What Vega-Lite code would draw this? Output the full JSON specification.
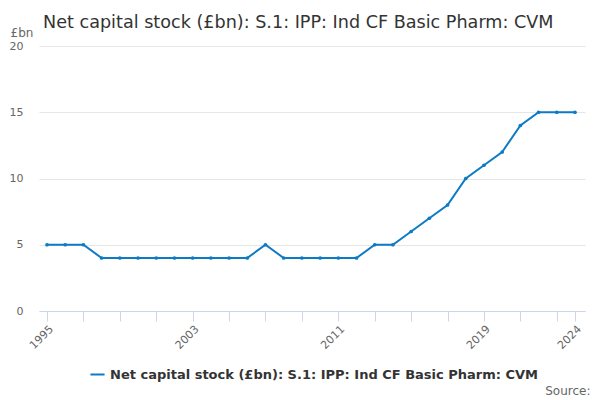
{
  "$schema": "https://vega.github.io/schema/vega-lite/v6.json",
  "width": 546,
  "height": 265,
  "autosize": "none",
  "padding": {"left": 39, "top": 46, "right": 15, "bottom": 89},
  "title": {
    "text": "Net capital stock (£bn): S.1: IPP: Ind CF Basic Pharm: CVM",
    "anchor": "start",
    "frame": "group",
    "fontSize": 17.6,
    "font": "DejaVu Sans",
    "fontWeight": "normal",
    "color": "#333333",
    "offset": -6,
    "dx": 4
  },
  "config": {"view": {"stroke": null}, "font": "DejaVu Sans"},
  "data": {
    "values": [
      {"year": 1995, "value": 5}, {"year": 1996, "value": 5}, {"year": 1997, "value": 5},
      {"year": 1998, "value": 4}, {"year": 1999, "value": 4}, {"year": 2000, "value": 4},
      {"year": 2001, "value": 4}, {"year": 2002, "value": 4}, {"year": 2003, "value": 4},
      {"year": 2004, "value": 4}, {"year": 2005, "value": 4}, {"year": 2006, "value": 4},
      {"year": 2007, "value": 5}, {"year": 2008, "value": 4}, {"year": 2009, "value": 4},
      {"year": 2010, "value": 4}, {"year": 2011, "value": 4}, {"year": 2012, "value": 4},
      {"year": 2013, "value": 5}, {"year": 2014, "value": 5}, {"year": 2015, "value": 6},
      {"year": 2016, "value": 7}, {"year": 2017, "value": 8}, {"year": 2018, "value": 10},
      {"year": 2019, "value": 11}, {"year": 2020, "value": 12}, {"year": 2021, "value": 14},
      {"year": 2022, "value": 15}, {"year": 2023, "value": 15}, {"year": 2024, "value": 15}
    ]
  },
  "mark": {
    "type": "line",
    "strokeWidth": 2,
    "point": {"filled": true, "size": 14}
  },
  "encoding": {
    "x": {
      "field": "year",
      "type": "quantitative",
      "scale": {"domain": [1994.56, 2024.55], "nice": false, "zero": false},
      "axis": {
        "values": [1995, 1997, 1999, 2001, 2003, 2005, 2007, 2009, 2011, 2013, 2015, 2017, 2019, 2021, 2023, 2024],
        "labelExpr": "(datum.value == 1995 || datum.value == 2003 || datum.value == 2011 || datum.value == 2019 || datum.value == 2024) ? datum.value + '' : ''",
        "grid": false,
        "domainColor": "#ccd6eb",
        "tickColor": "#ccd6eb",
        "tickSize": 10,
        "labelAngle": -45,
        "labelAlign": "right",
        "labelBaseline": "top",
        "labelColor": "#666666",
        "labelFontSize": 11,
        "labelPadding": 2,
        "labelOverlap": false,
        "title": "Source:",
        "titleAnchor": "start",
        "titleAlign": "right",
        "titleBaseline": "alphabetic",
        "titleX": 551,
        "titleY": 83,
        "titleFontWeight": "normal",
        "titleColor": "#666666",
        "titleFontSize": 12
      }
    },
    "y": {
      "field": "value",
      "type": "quantitative",
      "scale": {"domain": [0, 20], "nice": false},
      "axis": {
        "values": [0, 5, 10, 15, 20],
        "domain": false,
        "ticks": false,
        "gridColor": "#e6e6e6",
        "labelColor": "#666666",
        "labelFontSize": 11,
        "labelPadding": 16,
        "title": "£bn",
        "titleAngle": 0,
        "titleAlign": "left",
        "titleBaseline": "alphabetic",
        "titleX": -29,
        "titleY": -10,
        "titleFontWeight": "normal",
        "titleColor": "#666666",
        "titleFontSize": 12
      }
    },
    "color": {
      "datum": "Net capital stock (£bn): S.1: IPP: Ind CF Basic Pharm: CVM",
      "type": "nominal",
      "scale": {"range": ["#0d7bc4"]},
      "legend": {
        "title": null,
        "orient": "none",
        "legendX": 50,
        "legendY": 320,
        "symbolType": "stroke",
        "symbolStrokeWidth": 2,
        "symbolSize": 200,
        "labelFontSize": 13,
        "labelFontWeight": "bold",
        "labelColor": "#333333",
        "labelLimit": 0
      }
    }
  }
}
